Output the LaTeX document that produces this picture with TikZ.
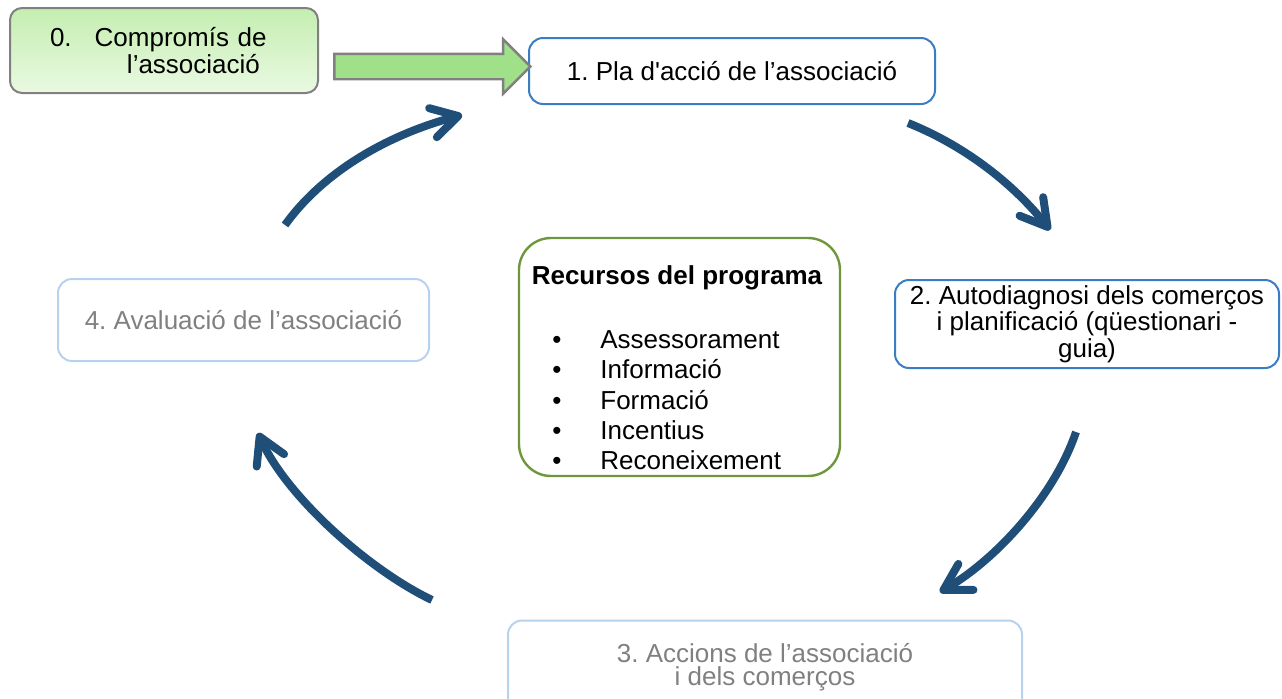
\documentclass[tikz,border=0pt]{standalone}
\usepackage{fontspec}
\setmainfont{Liberation Sans}
\usetikzlibrary{arrows.meta,shapes.arrows}
\definecolor{cycblue}{RGB}{31,78,121}
\definecolor{midblue}{RGB}{59,125,195}
\definecolor{paleblue}{RGB}{183,210,238}
\definecolor{graytxt}{RGB}{128,128,128}
\definecolor{resgreen}{RGB}{110,150,60}
\definecolor{greentop}{RGB}{196,238,176}
\definecolor{greenbot}{RGB}{234,249,226}
\definecolor{arrowgreen}{RGB}{160,224,136}
\frenchspacing
\begin{document}
\begin{tikzpicture}[x=0.5pt,y=-0.5pt,
    font=\fontsize{13}{11.75}\selectfont,
    stage/.style={draw=midblue,line width=1pt,rounded corners=7pt,align=center,inner sep=0pt},
    faded/.style={draw=paleblue,line width=1pt,rounded corners=7pt,align=center,inner sep=0pt,text=graytxt},
    cyc/.style={draw=cycblue,line width=4pt,-{Straight Barb[length=13pt,width=15pt,round]}},
    item/.style={anchor=base west,inner sep=0pt},
    dot/.style={anchor=base,inner sep=0pt}]
  \useasboundingbox (0,0) rectangle (1282,698);
  \path
    (164,50.5) node (0)[draw=graytxt,line width=1pt,rounded corners=6pt,top color=greentop,bottom color=greenbot,
      minimum width=154pt,minimum height=42.5pt,inner sep=0pt,text width=114pt,align=left,
      font=\fontsize{13}{13.3}\selectfont]
      {0.\hspace{11.5pt}Compromís de\\\hspace*{38.5pt}l’associació}
    (732,71) node (1)[stage,minimum width=203pt,minimum height=33pt]
      {1. Pla d\textquotesingle acció de l’associació}
    (1087,324) node (2)[stage,minimum width=192pt,minimum height=44pt]
      {2. Autodiagnosi dels comerços\\i planificació (qüestionari -\\guia)}
    (765,667) node (3)[faded,minimum width=257pt,minimum height=46.5pt,font=\fontsize{13}{11.5}\selectfont]
      {3. Accions de l’associació\\i dels comerços}
    (243.5,320) node (4)[faded,minimum width=185.5pt,minimum height=41pt]
      {4. Avaluació de l’associació}
    (679.5,357) node (r)[draw=resgreen,line width=1.2pt,rounded corners=16pt,minimum width=160.5pt,minimum height=119pt]{}
    (677,278) node (rt){\bfseries Recursos del programa};
  \path
    (557,348) node (b1)[dot]{•} (600,348) node (r1)[item]{Assessorament}
    (557,378.5) node (b2)[dot]{•} (600,378.5) node (r2)[item]{Informació}
    (557,409) node (b3)[dot]{•} (600,409) node (r3)[item]{Formació}
    (557,439) node (b4)[dot]{•} (600,439) node (r4)[item]{Incentius}
    (557,469) node (b5)[dot]{•} (600,469) node (r5)[item]{Reconeixement};
  \node (g)[single arrow,draw=graytxt,fill=arrowgreen,line width=1.2pt,minimum height=98pt,
    inner xsep=0pt,inner ysep=5.75pt,single arrow head extend=7.25pt] at (426,66.5){};
  \coordinate (s1) at (908,123);  \coordinate (e1) at (1050,230);
  \coordinate (s2) at (1076,432); \coordinate (e2) at (940,592);
  \coordinate (s3) at (432,600);  \coordinate (e3) at (258,433);
  \coordinate (s4) at (285,225);  \coordinate (e4) at (462,115);
  \begin{scope}[cyc]
    \draw (s1) .. controls +(60,24) and +(-34,-43) .. (e1);
    \draw (s2) .. controls +(-22,65) and +(55,-32) .. (e2);
    \draw (s3) .. controls +(-63,-30) and +(29,64) .. (e3);
    \draw (s4) .. controls +(41,-57) and +(-68,18) .. (e4);
  \end{scope}
\end{tikzpicture}
\end{document}
